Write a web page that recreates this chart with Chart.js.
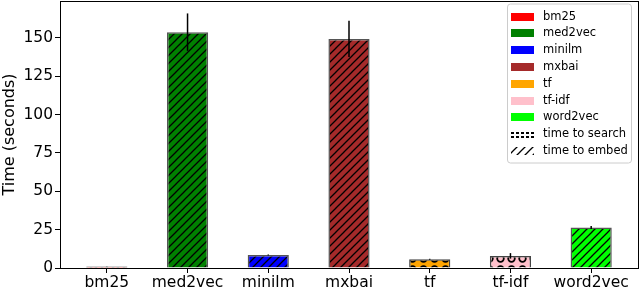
<!DOCTYPE html>
<html lang="en">
<head>
<meta charset="UTF-8" />
<title>Time per method</title>
<script src="https://cdn.jsdelivr.net/npm/chart.js"></script>
<style>
  html, body { margin: 0; padding: 0; background: #fff; }
  #wrap { width: 640px; height: 291px; }
</style>
</head>
<body>
<div id="wrap"><canvas id="grafico" width="640" height="291"></canvas></div>
<script>
    // data
    const categories = ['bm25', 'med2vec', 'minilm', 'mxbai', 'tf', 'tf-idf', 'word2vec'];
    const colors = ['#ff0000', '#008000', '#0000ff', '#a52a2a', '#ffa500', '#ffc0cb', '#00ff00'];
    const searchTime = [1.0, 0.3, 0.3, 0.3, 5.7, 7.9, 0.3];
    const embedTime = [0, 153.4, 8.2, 149.0, 0, 0, 26.1];
    const errTime = [0.1, 12.2, 0.3, 11.8, 0.3, 1.8, 1.0];
    const yTicks = [0, 25, 50, 75, 100, 125, 150];
    const seriesNames = ['time to search', 'time to embed'];

    const FONT = "'DejaVu Sans', sans-serif";

    // hatch patterns, like matplotlib '///' and 'o'
    function hatchLines(bg) {
        const c = document.createElement('canvas');
        c.width = 8; c.height = 8;
        const g = c.getContext('2d');
        g.fillStyle = bg; g.fillRect(0, 0, 8, 8);
        g.strokeStyle = '#000'; g.lineWidth = 1.3;
        g.beginPath();
        g.moveTo(-2, 10); g.lineTo(10, -2);
        g.moveTo(-2, 2); g.lineTo(2, -2);
        g.moveTo(6, 10); g.lineTo(10, 6);
        g.stroke();
        return g.createPattern(c, 'repeat');
    }
    function hatchCircles(bg) {
        const c = document.createElement('canvas');
        c.width = 11; c.height = 11;
        const g = c.getContext('2d');
        g.fillStyle = bg; g.fillRect(0, 0, 11, 11);
        g.strokeStyle = '#000'; g.lineWidth = 1.8;
        g.beginPath(); g.arc(5.5, 5.5, 3.3, 0, Math.PI * 2); g.stroke();
        return g.createPattern(c, 'repeat');
    }
    function hatchDots(bg) {
        const c = document.createElement('canvas');
        c.width = 5; c.height = 4;
        const g = c.getContext('2d');
        g.fillStyle = bg; g.fillRect(0, 0, 5, 4);
        g.fillStyle = '#000'; g.fillRect(1, 0, 3, 2);
        return g.createPattern(c, 'repeat');
    }

    const errorBars = {
        id: 'errorBars',
        afterDatasetsDraw(chart) {
            const { ctx, scales: { x, y } } = chart;
            ctx.save();
            ctx.strokeStyle = '#000';
            ctx.lineWidth = 1.5;
            categories.forEach((_, i) => {
                const total = searchTime[i] + embedTime[i];
                const px = x.getPixelForValue(i);
                ctx.beginPath();
                ctx.moveTo(px, y.getPixelForValue(total - errTime[i]));
                ctx.lineTo(px, y.getPixelForValue(total + errTime[i]));
                ctx.stroke();
            });
            // frame round the axes
            const a = chart.chartArea;
            ctx.lineWidth = 1;
            ctx.strokeRect(Math.round(a.left) + 0.5, Math.round(a.top) + 0.5,
                Math.round(a.right - a.left), Math.round(a.bottom - a.top));
            ctx.restore();
        }
    };

    const legendBox = {
        id: 'legendBox',
        afterDraw(chart) {
            const { ctx, chartArea: a } = chart;
            const x0 = a.right - 131, y0 = a.top + 2.5, w = 124, h = 159;
            ctx.save();
            ctx.fillStyle = 'rgba(255,255,255,0.8)';
            ctx.strokeStyle = '#cccccc';
            ctx.lineWidth = 1;
            ctx.beginPath();
            ctx.roundRect(x0 + 0.5, y0 + 0.5, w, h, 3);
            ctx.fill(); ctx.stroke();
            const items = categories.map((c, i) => ({ text: c, fill: colors[i] }))
                .concat([
                    { text: seriesNames[0], fill: hatchDots('#ffffff') },
                    { text: seriesNames[1], fill: hatchLines('#ffffff') }
                ]);
            ctx.font = '11.5px ' + FONT;
            ctx.textBaseline = 'middle';
            items.forEach((it, k) => {
                const cy = Math.round(y0 + 13 + k * 16.8);
                ctx.fillStyle = it.fill;
                ctx.fillRect(x0 + 4, cy - 4, 23, 8);
                ctx.fillStyle = '#000';
                ctx.fillText(it.text, x0 + 36, cy);
            });
            ctx.restore();
        }
    };

    const ctx = document.getElementById('grafico').getContext('2d');
    new Chart(ctx, {
        type: 'bar',
        data: {
            datasets: [
                {
                    label: seriesNames[0],
                    data: searchTime.map((v, i) => ({ x: i, y: v })),
                    backgroundColor: colors.map(c => hatchCircles(c)),
                    borderColor: '#444444',
                    borderWidth: 1.5,
                    barPercentage: 0.51,
                    categoryPercentage: 1
                },
                {
                    label: seriesNames[1],
                    data: embedTime.map((v, i) => ({ x: i, y: v })),
                    backgroundColor: colors.map(c => hatchLines(c)),
                    borderColor: '#555555',
                    borderWidth: 1.5,
                    barPercentage: 0.51,
                    categoryPercentage: 1
                }
            ]
        },
        options: {
            responsive: false,
            animation: false,
            layout: { padding: { top: 1, right: 2, left: 0, bottom: 0 } },
            plugins: {
                legend: { display: false },
                tooltip: { enabled: false }
            },
            scales: {
                x: {
                    type: 'linear',
                    stacked: true,
                    offset: false,
                    min: -0.58,
                    max: 6.58,
                    afterBuildTicks: s => { s.ticks = categories.map((_, i) => ({ value: i })); },
                    afterFit: s => { s.height = 23; s.paddingLeft = 0; s.paddingRight = 0; },
                    grid: { drawOnChartArea: false, drawTicks: true, tickLength: 5, color: '#000', offset: false },
                    border: { display: true, color: '#000' },
                    ticks: {
                        color: '#000',
                        padding: 1,
                        font: { family: FONT, size: 15.5 },
                        maxRotation: 0,
                        autoSkip: false,
                        callback: v => categories[v]
                    }
                },
                y: {
                    stacked: true,
                    min: 0,
                    max: 174,
                    afterBuildTicks: s => { s.ticks = yTicks.map(v => ({ value: v })); },
                    afterFit: s => { s.width = 60; s.paddingTop = 0; s.paddingBottom = 0; },
                    grid: { drawOnChartArea: false, drawTicks: true, tickLength: 5, color: '#000' },
                    border: { display: true, color: '#000' },
                    title: {
                        display: true,
                        text: 'Time (seconds)',
                        color: '#000',
                        font: { family: FONT, size: 16 },
                        padding: { top: 0, bottom: 2 }
                    },
                    ticks: {
                        color: '#000',
                        padding: 2,
                        font: { family: FONT, size: 15.5 }
                    }
                }
            }
        },
        plugins: [errorBars, legendBox]
    });
</script>
</body>
</html>
